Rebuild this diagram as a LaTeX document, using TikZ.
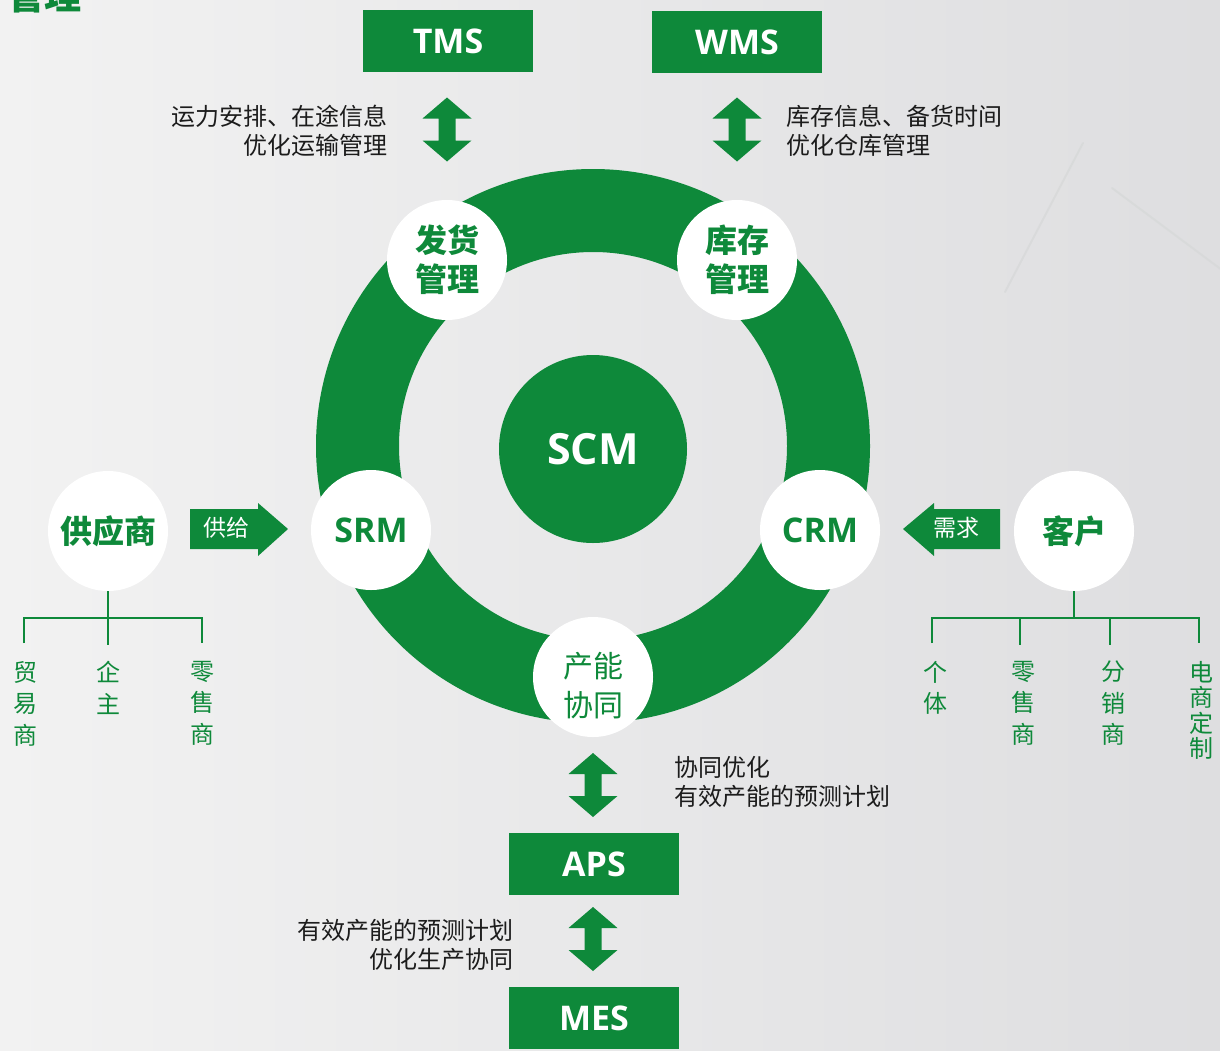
\documentclass[tikz,border=0pt]{standalone}
\usepackage{fontspec}
\setmainfont{Noto Sans CJK SC}
\newfontfamily\lat{Open Sans}
\definecolor{g}{RGB}{14,137,58}
\definecolor{tx}{RGB}{28,28,28}
\definecolor{bgl}{RGB}{242,242,242}
\definecolor{bgr}{RGB}{222,222,224}
\definecolor{streak}{RGB}{214,216,216}
\tikzset{
  box/.style={fill=g, text=white, minimum width=170pt, minimum height=62pt, inner sep=0pt,
    font=\lat\bfseries\fontsize{34}{38}\selectfont},
  wcirc/.style={circle, fill=white, minimum size=120pt, inner sep=0pt, text=g},
  cjkbig/.style={font=\bfseries\fontsize{32}{39}\selectfont, align=center},
  latbig/.style={font=\lat\bfseries\fontsize{34}{38}\selectfont},
  note/.style={text=tx, inner sep=0pt, font=\fontsize{24}{29}\selectfont},
  leaf/.style={text=g, inner sep=0pt, anchor=north, align=center, font=\fontsize{24}{31.5}\selectfont},
  tree/.style={draw=g, line width=2.6pt},
  dbl/.pic={\fill[g] (0,-32) -- (24.5,-11) -- (8.5,-11) -- (8.5,11) -- (24.5,11) -- (0,32)
     -- (-24.5,11) -- (-8.5,11) -- (-8.5,-11) -- (-24.5,-11) -- cycle;}
}
\begin{document}
\begin{tikzpicture}[x=1pt,y=-1pt]
\useasboundingbox (0,0) rectangle (1220,1050);
\clip (0,0) rectangle (1220,1050);
\shade[left color=bgl, right color=bgr] (0,0) rectangle (1220,1050);
% faint background strokes
\draw[streak, line width=2pt, line cap=round, opacity=0.7] (1005,292) -- (1083,143);
\draw[streak, line width=2pt, line cap=round, opacity=0.7] (1112,188) -- (1230,276);
% cut-off title
\node[anchor=base west, inner sep=0pt, text=g, font=\bfseries\fontsize{37}{40}\selectfont] (title) at (7,9) {管理};
% ring
\coordinate (c) at (593,446);
\fill[g, even odd rule] (c) circle (277pt) (c) circle (194pt);
\node[circle, fill=g, minimum size=188pt, inner sep=0pt, text=white,
  font=\lat\bfseries\fontsize{43}{46}\selectfont] (scm) at (593,449) {SCM};
% white circles on ring
\node[wcirc, cjkbig] (fh) at (447,260) {发货\\管理};
\node[wcirc, cjkbig] (kc) at (737,260) {库存\\管理};
\node[wcirc, latbig] (srm) at (371,530) {SRM};
\node[wcirc, latbig] (crm) at (820,530) {CRM};
\node[wcirc] (cn) at (593,677) {};
\node[text=g, inner sep=0pt, align=center, font=\fontsize{30}{39}\selectfont] (cnt) at (593,686) {产能\\协同};
\node[wcirc, cjkbig] (gys) at (108,531) {供应商};
\node[wcirc, cjkbig] (kh) at (1074,531) {客户};
% boxes
\node[box] (tms) at (448,41) {TMS};
\node[box] (wms) at (737,42) {WMS};
\node[box] (aps) at (594,864) {APS};
\node[box] (mes) at (594,1018) {MES};
% double arrows
\pic at (447,129.5) {dbl};
\pic at (737,129.5) {dbl};
\pic at (593,785) {dbl};
\pic at (593,939) {dbl};
% notes
\node[note, anchor=east, align=right] (n1) at (388,130.5) {运力安排、在途信息\\优化运输管理};
\node[note, anchor=west, align=left] (n2) at (786,130.5) {库存信息、备货时间\\优化仓库管理};
\node[note, anchor=west, align=left] (n3) at (674,781.5) {协同优化\\有效产能的预测计划};
\node[note, anchor=east, align=right] (n4) at (514,944.5) {有效产能的预测计划\\优化生产协同};
% side arrows
\fill[g] (190,509) -- (258,509) -- (258,503) -- (288,529) -- (258,556) -- (258,549) -- (190,549) -- cycle;
\node[text=white, inner sep=0pt, font=\fontsize{23}{26}\selectfont] (gj) at (226,528) {供给};
\fill[g] (1000,509) -- (934,509) -- (934,503) -- (903,529) -- (934,556) -- (934,549) -- (1000,549) -- cycle;
\node[text=white, inner sep=0pt, font=\fontsize{23}{26}\selectfont] (xq) at (956,528) {需求};
% left tree
\coordinate (lt) at (108,618);
\draw[tree] (gys.south) -- (lt);
\draw[tree] (24,643) -- (24,618) -- (202,618) -- (202,643);
\draw[tree] (lt) -- (108,645);
\node[leaf] (l1) at (25,661) {贸\\易\\商};
\node[leaf] (l2) at (108,661) {企\\主};
\node[leaf] (l3) at (202,661) {零\\售\\商};
% right tree
\coordinate (rt) at (1074,618);
\draw[tree] (kh.south) -- (rt);
\draw[tree] (932,643) -- (932,618) -- (1199,618) -- (1199,643);
\draw[tree] (1020,618) -- (1020,645);
\draw[tree] (1110,618) -- (1110,645);
\node[leaf] (r1) at (935,661) {个\\体};
\node[leaf] (r2) at (1023,661) {零\\售\\商};
\node[leaf] (r3) at (1113,661) {分\\销\\商};
\node[leaf, font=\fontsize{24}{25.5}\selectfont] (r4) at (1201,661) {电\\商\\定\\制};
\end{tikzpicture}
\end{document}
